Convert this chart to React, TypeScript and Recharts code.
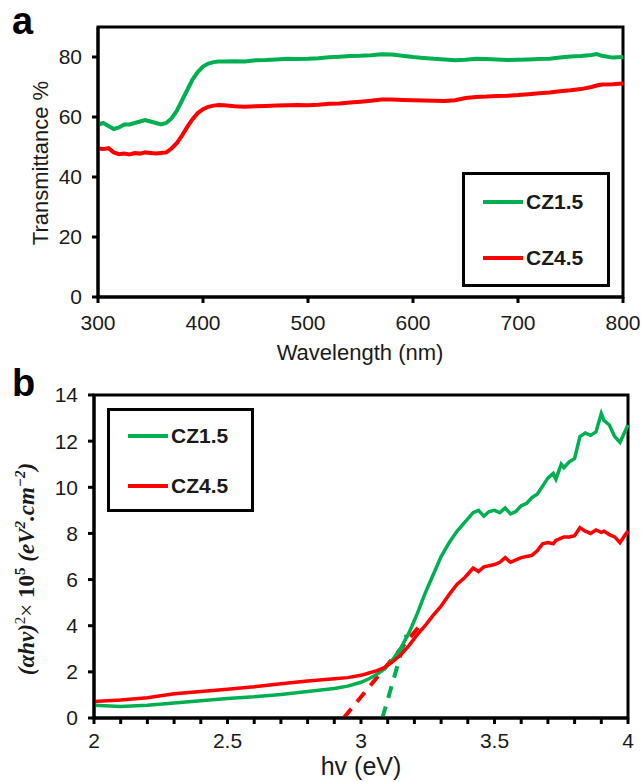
import { LineChart, Line, XAxis, YAxis, ReferenceArea, Legend, Label } from 'recharts';

// panel a: transmittance spectra
const aWavelength = [300, 305, 310, 315, 320, 325, 330, 335, 340, 345, 350, 355, 360, 365, 370, 375, 380, 385, 390, 395, 400, 405, 410, 415, 420,
  430, 440, 450, 460, 470, 480, 490, 500, 510, 520, 530, 540, 550, 560, 570, 580, 590, 600, 610, 620, 630, 640, 650, 660, 670, 680, 690, 700, 710, 720, 730, 740, 750, 760, 770,
  775, 780, 790, 800];
const aCZ15 = [57.5, 58.0, 57.0, 56.0, 56.5, 57.5, 57.5, 58.0, 58.5, 59.0, 58.5, 58.0, 57.5, 58.0, 59.5, 62.0, 65.5, 69.0, 72.5, 75.0, 76.8, 77.8, 78.3, 78.5, 78.5,
  78.6, 78.5, 78.9, 79.0, 79.2, 79.4, 79.3, 79.4, 79.6, 79.9, 80.1, 80.3, 80.4, 80.6, 80.9, 80.8, 80.4, 80.0, 79.7, 79.4, 79.2, 78.9, 79.1, 79.4, 79.3, 79.2, 79.0, 79.1, 79.2, 79.3, 79.4, 79.8, 80.2, 80.3, 80.7,
  81.0, 80.4, 79.8, 80.0];
const aCZ45 = [49.5, 49.3, 49.6, 48.2, 47.6, 47.8, 47.5, 48.0, 47.8, 48.2, 48.0, 47.8, 48.0, 48.2, 49.5, 51.3, 53.8, 56.7, 59.3, 61.3, 62.6, 63.4, 63.8, 64.0, 63.9,
  63.6, 63.4, 63.6, 63.7, 63.8, 63.9, 64.0, 63.9, 64.1, 64.4, 64.5, 64.8, 65.1, 65.4, 65.8, 65.8, 65.7, 65.6, 65.5, 65.4, 65.3, 65.6, 66.3, 66.7, 66.8, 67.0, 67.1, 67.3, 67.6, 67.9, 68.2, 68.6, 68.9, 69.3, 70.0,
  70.5, 70.8, 70.9, 71.2];
const aXTicks = [300, 400, 500, 600, 700, 800];
const aYTicks = [0, 20, 40, 60, 80];

// panel b: Tauc plot
const bEnergy = [2.0, 2.1, 2.2, 2.3, 2.4, 2.5, 2.6, 2.7, 2.8, 2.9, 2.95, 3.0,
  3.03, 3.06, 3.09, 3.12, 3.15, 3.18, 3.21, 3.24, 3.27, 3.3, 3.33, 3.36, 3.39, 3.42,
  3.44, 3.46, 3.48, 3.5, 3.52, 3.54, 3.56, 3.58, 3.6, 3.62, 3.64, 3.66, 3.68, 3.7, 3.72,
  3.73, 3.75, 3.76, 3.78, 3.8, 3.82, 3.84, 3.86, 3.88, 3.9, 3.91, 3.93, 3.95, 3.97, 3.99, 4.0];
const bCZ15 = [0.55, 0.5, 0.55, 0.65, 0.75, 0.85, 0.92, 1.02, 1.15, 1.28, 1.38, 1.55,
  1.7, 1.9, 2.15, 2.55, 3.05, 3.7, 4.5, 5.4, 6.2, 7.0, 7.6, 8.1, 8.5, 8.9,
  9.0, 8.75, 8.95, 9.0, 8.9, 9.1, 8.85, 8.95, 9.2, 9.3, 9.55, 9.7, 10.05, 10.4, 10.6,
  10.35, 11.0, 10.85, 11.1, 11.25, 12.2, 12.35, 12.25, 12.4, 13.2, 12.9, 12.7, 12.2, 11.95, 12.45, 12.7];
const bCZ45 = [0.72, 0.78, 0.88, 1.05, 1.15, 1.25, 1.35, 1.48, 1.6, 1.7, 1.75, 1.85,
  1.95, 2.05, 2.2, 2.45, 2.75, 3.15, 3.6, 4.0, 4.45, 4.85, 5.35, 5.8, 6.1, 6.5,
  6.35, 6.55, 6.6, 6.65, 6.75, 6.95, 6.75, 6.85, 6.95, 7.0, 7.05, 7.25, 7.55, 7.6, 7.55,
  7.7, 7.8, 7.85, 7.85, 7.9, 8.25, 8.1, 8.0, 8.15, 8.05, 8.1, 7.95, 7.85, 7.6, 7.95, 8.1];
// band-gap extrapolation lines (endpoints)
const bFitCZ15X = [3.08, 3.17];
const bFitCZ15Y = [0, 3.6];
const bFitCZ45X = [2.935, 3.22];
const bFitCZ45Y = [0, 4.0];
const bXTicks = [2, 2.1, 2.2, 2.3, 2.4, 2.5, 2.6, 2.7, 2.8, 2.9, 3, 3.1, 3.2, 3.3, 3.4, 3.5, 3.6, 3.7, 3.8, 3.9, 4];
const bYTicks = [0, 2, 4, 6, 8, 10, 12, 14];

const GREEN = '#00b050';
const RED = '#ff0000';
const SANS = '"Liberation Sans", Arial, sans-serif';
const SERIF = '"Liberation Serif", "DejaVu Serif", serif';

const aData = aWavelength.map((x, i) => ({ x, cz15: aCZ15[i], cz45: aCZ45[i] }));
const bData = bEnergy.map((x, i) => ({ x, cz15: bCZ15[i], cz45: bCZ45[i] }));
const fit15 = bFitCZ15X.map((x, i) => ({ x, y: bFitCZ15Y[i] }));
const fit45 = bFitCZ45X.map((x, i) => ({ x, y: bFitCZ45Y[i] }));

const tickStyle = { fontSize: 21, fill: '#1a1a1a', fontFamily: SANS };
const axisLine = { stroke: '#000', strokeWidth: 3 };
const tickLine = { stroke: '#000', strokeWidth: 3 };

const series = [
  { name: 'CZ1.5', color: GREEN },
  { name: 'CZ4.5', color: RED },
];

const LegendBox = ({ rowTops }) => (
  <div style={{ position: 'relative', boxSizing: 'border-box', width: '100%', height: '100%', border: '3px solid #000', background: '#fff' }}>
    {series.map((s, i) => (
      <div key={s.name} style={{ position: 'absolute', left: 18, top: rowTops[i], display: 'flex', alignItems: 'center' }}>
        <span style={{ display: 'inline-block', width: 40, height: 4, background: s.color, marginRight: 3 }} />
        <span style={{ fontFamily: SANS, fontWeight: 'bold', fontSize: 21, color: '#1a1a1a', lineHeight: '24px' }}>{s.name}</span>
      </div>
    ))}
  </div>
);

const fmtB = (v) => {
  const r = Math.round(v * 10);
  return r % 5 === 0 ? String(r / 10) : '';
};

const panelLetter = { position: 'absolute', left: 12, fontFamily: SANS, fontWeight: 'bold', fontSize: 38, lineHeight: 'normal' };

export default function App() {
  return (
    <div style={{ position: 'absolute', left: 0, top: 0, width: 641, height: 782, background: '#fff' }}>
      <div style={{ ...panelLetter, top: 0 }}>a</div>
      <div style={{ ...panelLetter, top: 362 }}>b</div>

      <div style={{ position: 'absolute', left: 0, top: 0 }}>
        <LineChart width={641} height={370} data={aData} margin={{ top: 27, right: 18, bottom: 0, left: 0 }}>
          <XAxis dataKey="x" type="number" domain={[300, 800]} ticks={aXTicks} tick={tickStyle} tickSize={6} tickMargin={12}
            axisLine={axisLine} tickLine={tickLine} height={73}>
            <Label content={() => <text x={360} y={360} textAnchor="middle" fontSize={22} fontFamily={SANS} fill="#1a1a1a">Wavelength (nm)</text>} />
          </XAxis>
          <YAxis type="number" domain={[0, 90]} ticks={aYTicks} tick={tickStyle} tickSize={6} tickMargin={10}
            axisLine={axisLine} tickLine={tickLine} width={98}>
            <Label content={() => <text x={48} y={163} transform="rotate(-90 48 163)" textAnchor="middle" fontSize={22} fontFamily={SANS} fill="#1a1a1a">Transmittance %</text>} />
          </YAxis>
          <ReferenceArea x1={300} x2={800} y1={0} y2={90} fill="none" stroke="#000" strokeWidth={3} />
          <Line dataKey="cz15" name="CZ1.5" stroke={GREEN} strokeWidth={4} dot={false} isAnimationActive={false} type="linear" />
          <Line dataKey="cz45" name="CZ4.5" stroke={RED} strokeWidth={4} dot={false} isAnimationActive={false} type="linear" />
          <Legend layout="vertical" align="center" verticalAlign="middle" content={() => <LegendBox rowTops={[15, 71]} />}
            wrapperStyle={{ left: 462, top: 172, width: 148, height: 115 }} />
        </LineChart>
      </div>

      <div style={{ position: 'absolute', left: 0, top: 370 }}>
        <LineChart width={641} height={412} data={bData} margin={{ top: 25, right: 13, bottom: 0, left: 0 }}>
          <XAxis dataKey="x" type="number" domain={[2, 4]} ticks={bXTicks} tickFormatter={fmtB} tick={tickStyle} tickSize={6} tickMargin={9}
            axisLine={axisLine} tickLine={tickLine} height={64} interval={0}>
            <Label content={() => <text x={361} y={405} textAnchor="middle" fontSize={25} fontFamily={SANS} fill="#1a1a1a">hv (eV)</text>} />
          </XAxis>
          <YAxis type="number" domain={[0, 14]} ticks={bYTicks} tick={tickStyle} tickSize={6} tickMargin={10}
            axisLine={axisLine} tickLine={tickLine} width={94}>
            <Label content={() => (
              <text x={34} y={199} transform="rotate(-90 34 199)" textAnchor="middle" fontSize={23} fontFamily={SERIF} fontWeight="bold" fill="#1a1a1a">
                <tspan fontStyle="italic">(αhv)</tspan>
                <tspan dy={-9} fontSize={15} fontWeight="normal">2</tspan>
                <tspan dy={9} fontWeight="normal">× </tspan>
                <tspan>10</tspan>
                <tspan dy={-9} fontSize={15}>5</tspan>
                <tspan dy={9} fontStyle="italic"> (eV</tspan>
                <tspan dy={-9} fontSize={15} fontStyle="italic">2</tspan>
                <tspan dy={9} fontStyle="italic">.cm</tspan>
                <tspan dy={-9} fontSize={15} fontStyle="italic">−2</tspan>
                <tspan dy={9} fontStyle="italic">)</tspan>
              </text>
            )} />
          </YAxis>
          <ReferenceArea x1={2} x2={4} y1={0} y2={14} fill="none" stroke="#000" strokeWidth={3} />
          <Line data={fit45} dataKey="y" stroke={RED} strokeWidth={4} strokeDasharray="12 9" dot={false} isAnimationActive={false} type="linear" legendType="none" />
          <Line data={fit15} dataKey="y" stroke={GREEN} strokeWidth={4} strokeDasharray="12 9" dot={false} isAnimationActive={false} type="linear" legendType="none" />
          <Line dataKey="cz15" name="CZ1.5" stroke={GREEN} strokeWidth={3.5} dot={false} isAnimationActive={false} type="linear" />
          <Line dataKey="cz45" name="CZ4.5" stroke={RED} strokeWidth={3.5} dot={false} isAnimationActive={false} type="linear" />
          <Legend layout="vertical" align="center" verticalAlign="middle" content={() => <LegendBox rowTops={[13, 63]} />}
            wrapperStyle={{ left: 107, top: 38, width: 147, height: 104 }} />
        </LineChart>
      </div>
    </div>
  );
}
